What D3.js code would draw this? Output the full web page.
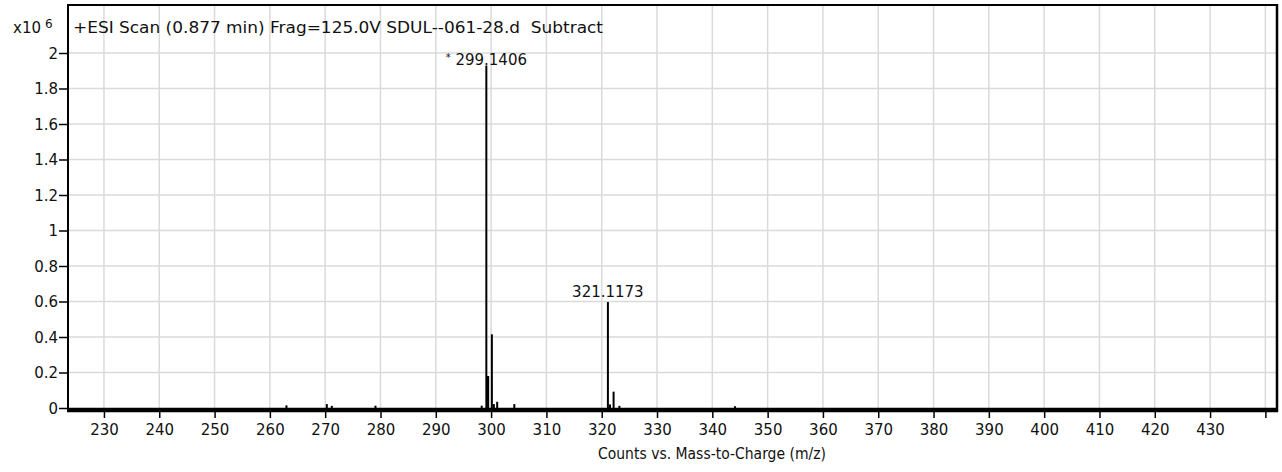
<!DOCTYPE html>
<html>
<head>
<meta charset="utf-8">
<script src="https://cdn.jsdelivr.net/npm/d3@7"></script>
<style>
  html, body { margin: 0; padding: 0; background: #fff; }
  svg { display: block; }
  text { font-family: "DejaVu Sans", "Liberation Sans", sans-serif; fill: #111; }
</style>
</head>
<body>
<svg id="chart" width="1282" height="472"></svg>
<script>
// ---- data (intensity in units of 10^6 counts) ----
const titleText = "+ESI Scan (0.877 min) Frag=125.0V SDUL--061-28.d  Subtract";
const xAxisTitle = "Counts vs. Mass-to-Charge (m/z)";
const yExponentBase = "x10";
const yExponent = "6";
const peakMz =        [263.0, 270.3, 271.2, 279.1, 298.3, 299.14, 299.40, 300.14, 300.5, 301.1, 304.2, 321.12, 321.5, 322.15, 323.2, 344.1];
const peakIntensity = [0.015, 0.022, 0.012, 0.013, 0.013, 1.930,  0.180,  0.415,  0.022, 0.035, 0.022, 0.597,  0.020, 0.092,  0.012, 0.010];
const labelMz =    [299.1406, 321.1173];
const labelValue = [1.930, 0.597];
const labelText =  ["299.1406", "321.1173"];
const labelStar =  [true, false];
const xTicks = [230, 240, 250, 260, 270, 280, 290, 300, 310, 320, 330, 340, 350, 360, 370, 380, 390, 400, 410, 420, 430, 440];
const xTickLabels = ["230","240","250","260","270","280","290","300","310","320","330","340","350","360","370","380","390","400","410","420","430",""];
const yTicks = [0, 0.2, 0.4, 0.6, 0.8, 1.0, 1.2, 1.4, 1.6, 1.8, 2.0];
const yTickLabels = ["0","0.2","0.4","0.6","0.8","1","1.2","1.4","1.6","1.8","2"];

// ---- layout ----
const L = 68, R = 1277, T = 5, B = 410;
const x = d3.scaleLinear().domain([223.5, 442.1]).range([L, R]);
const y = d3.scaleLinear().domain([0, 2]).range([408, 53]);

const svg = d3.select("#chart");
const FS = 15;

// gridlines
const grid = svg.append("g");
grid.selectAll("line.v").data(xTicks).join("line")
  .attr("x1", d => x(d)).attr("x2", d => x(d))
  .attr("y1", T).attr("y2", B)
  .attr("stroke", "#dadada").attr("stroke-width", 1.5);
grid.selectAll("line.h").data(yTicks.filter(d => d > 0)).join("line")
  .attr("x1", L).attr("x2", R)
  .attr("y1", d => y(d)).attr("y2", d => y(d))
  .attr("stroke", "#dadada").attr("stroke-width", 1.5);

// peaks (sticks)
svg.append("g").selectAll("line").data(peakMz.map((m, i) => [m, peakIntensity[i]])).join("line")
  .attr("x1", d => x(d[0])).attr("x2", d => x(d[0]))
  .attr("y1", y(0)).attr("y2", d => y(d[1]))
  .attr("stroke", "#000").attr("stroke-width", d => d[0] === 299.40 ? 2.8 : 2);

// x axis
const xAxis = d3.axisBottom(x).tickValues(xTicks)
  .tickFormat((d, i) => xTickLabels[i]).tickSize(8).tickSizeOuter(0);
const gx = svg.append("g").attr("transform", `translate(0,${B})`).call(xAxis);
gx.select(".domain").remove();
gx.selectAll(".tick line").attr("stroke", "#000").attr("stroke-width", 1.5);
gx.selectAll(".tick text").attr("y", 25).attr("dy", 0)
  .style("font-size", FS + "px").style("font-family", '"DejaVu Sans", sans-serif').attr("fill", "#111");

// y axis
const yAxis = d3.axisLeft(y).tickValues(yTicks)
  .tickFormat((d, i) => yTickLabels[i]).tickSize(9).tickPadding(1).tickSizeOuter(0);
const gy = svg.append("g").attr("transform", `translate(${L},0)`).call(yAxis);
gy.select(".domain").remove();
gy.selectAll(".tick line").attr("stroke", "#000").attr("stroke-width", 1.5);
gy.selectAll(".tick text").attr("dy", "0.36em")
  .style("font-size", FS + "px").style("font-family", '"DejaVu Sans", sans-serif').attr("fill", "#111");

// frame and baseline
svg.append("line").attr("x1", L).attr("x2", R).attr("y1", T).attr("y2", T)
  .attr("stroke", "#000").attr("stroke-width", 2);
svg.append("line").attr("x1", L).attr("x2", L).attr("y1", T - 1).attr("y2", B)
  .attr("stroke", "#000").attr("stroke-width", 2);
svg.append("line").attr("x1", R).attr("x2", R).attr("y1", T - 1).attr("y2", B + 2)
  .attr("stroke", "#000").attr("stroke-width", 2.5);
svg.append("line").attr("x1", L - 1).attr("x2", R + 1).attr("y1", B).attr("y2", B)
  .attr("stroke", "#000").attr("stroke-width", 4.5);

// peak labels
labelMz.forEach((m, i) => {
  const t = svg.append("text")
    .attr("x", x(m)).attr("y", y(labelValue[i]) - (labelStar[i] ? 0 : 5))
    .attr("text-anchor", "middle")
    .style("font-size", FS + "px");
  if (labelStar[i]) {
    t.append("tspan").text("*").style("font-size", "10px").attr("dy", -4);
    t.append("tspan").text("\u00a0" + labelText[i]).attr("dy", 4);
  } else {
    t.text(labelText[i]);
  }
});

// title
svg.append("text").attr("x", 73).attr("y", 33)
  .style("font-size", FS + "px").style("white-space", "pre")
  .attr("textLength", 530).attr("lengthAdjust", "spacingAndGlyphs")
  .text(titleText);

// y exponent label
const ex = svg.append("text").attr("x", 13).attr("y", 33).style("font-size", FS + "px");
ex.append("tspan").text(yExponentBase);
ex.append("tspan").text(yExponent).attr("dx", 4).attr("dy", -5).style("font-size", "12px");

// x axis title
svg.append("text").attr("x", 712).attr("y", 459).attr("text-anchor", "middle")
  .style("font-size", FS + "px")
  .attr("textLength", 228).attr("lengthAdjust", "spacingAndGlyphs")
  .text(xAxisTitle);
</script>
</body>
</html>
